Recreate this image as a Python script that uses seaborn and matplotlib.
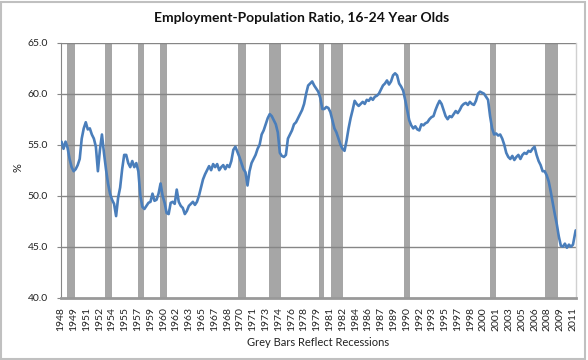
import matplotlib
matplotlib.use("Agg")
import matplotlib.pyplot as plt
import seaborn as sns
import numpy as np
import pandas as pd
from matplotlib.patches import Rectangle

# ---- data: quarterly readings (Q1..Q4) of the 16-24 employment-population ratio, %
years = list(range(1948, 2012))
q_values = [
    55.3, 54.6, 55.3, 54.7,   # 1948
    53.6, 52.8, 52.4, 52.6,   # 1949
    53.0, 53.6, 55.6, 56.6,   # 1950
    57.2, 56.5, 56.6, 56.0,   # 1951
    55.6, 54.8, 52.4, 54.5,   # 1952
    56.0, 54.2, 52.6, 51.2,   # 1953
    50.2, 49.6, 49.2, 48.0,   # 1954
    49.8, 50.8, 52.6, 54.0,   # 1955
    54.0, 53.2, 52.8, 53.4,   # 1956
    52.8, 53.2, 52.4, 50.0,   # 1957
    48.9, 48.7, 49.0, 49.3,   # 1958
    49.4, 50.2, 49.5, 49.6,   # 1959
    50.2, 51.2, 50.0, 49.3,   # 1960
    48.3, 48.2, 49.3, 49.4,   # 1961
    49.2, 50.6, 49.4, 49.0,   # 1962
    48.8, 48.2, 48.5, 49.0,   # 1963
    49.2, 49.4, 49.1, 49.4,   # 1964
    50.0, 50.8, 51.6, 52.1,   # 1965
    52.5, 52.9, 52.5, 53.1,   # 1966
    52.8, 53.1, 52.5, 52.8,   # 1967
    53.0, 52.6, 53.0, 52.8,   # 1968
    53.4, 54.5, 54.8, 54.3,   # 1969
    53.8, 53.2, 52.6, 52.3,   # 1970
    51.0, 52.4, 53.2, 53.6,   # 1971
    54.0, 54.6, 55.0, 56.0,   # 1972
    56.4, 57.0, 57.6, 58.0,   # 1973
    57.8, 57.4, 57.0, 56.2,   # 1974
    54.2, 53.9, 53.8, 54.0,   # 1975
    55.6, 56.0, 56.4, 57.0,   # 1976
    57.2, 57.6, 58.0, 58.4,   # 1977
    59.0, 60.0, 60.8, 61.0,   # 1978
    61.2, 60.8, 60.5, 60.2,   # 1979
    59.6, 58.5, 58.5, 58.7,   # 1980
    58.6, 58.2, 57.4, 56.6,   # 1981
    56.2, 55.6, 55.0, 54.6,   # 1982
    54.4, 55.4, 56.6, 57.6,   # 1983
    58.4, 59.3, 59.0, 58.8,   # 1984
    59.0, 59.2, 59.0, 59.4,   # 1985
    59.3, 59.6, 59.4, 59.7,   # 1986
    59.8, 60.0, 60.4, 60.8,   # 1987
    61.0, 61.3, 60.9, 61.2,   # 1988
    61.8, 62.0, 61.8, 61.0,   # 1989
    60.7, 60.3, 59.4, 58.4,   # 1990
    57.4, 56.9, 56.6, 56.8,   # 1991
    56.5, 56.4, 57.0, 56.9,   # 1992
    57.1, 57.2, 57.5, 57.7,   # 1993
    57.8, 58.4, 58.9, 59.3,   # 1994
    59.0, 58.4, 57.8, 57.5,   # 1995
    57.8, 57.7, 58.0, 58.3,   # 1996
    58.1, 58.4, 58.8, 59.0,   # 1997
    59.1, 58.9, 59.2, 59.0,   # 1998
    58.9, 59.3, 60.0, 60.2,   # 1999
    60.1, 60.0, 59.7, 59.4,   # 2000
    57.8, 56.6, 56.0, 56.1,   # 2001
    55.9, 56.0, 55.6, 55.0,   # 2002
    54.2, 53.8, 53.6, 53.9,   # 2003
    53.5, 53.8, 54.0, 53.6,   # 2004
    54.0, 54.2, 54.1, 54.4,   # 2005
    54.3, 54.6, 54.8, 54.0,   # 2006
    53.4, 53.0, 52.4, 52.4,   # 2007
    52.0, 51.4, 50.4, 49.3,   # 2008
    48.2, 47.2, 46.0, 45.1,   # 2009
    45.0, 45.3, 44.9, 45.2,   # 2010
    45.0, 45.2,               # 2011 Q1-Q2
]
last_value = 46.6          # Sep 2011
n_months = 765             # Jan 1948 .. Sep 2011

# NBER recessions as (start, end) "YYYY-MM"
recessions = [("1948-11", "1949-10"), ("1953-07", "1954-05"), ("1957-08", "1958-04"),
              ("1960-04", "1961-02"), ("1969-12", "1970-11"), ("1973-11", "1975-03"),
              ("1980-01", "1980-07"), ("1981-07", "1982-11"), ("1990-07", "1991-03"),
              ("2001-03", "2001-11"), ("2007-12", "2009-06")]

yticks = [40, 45, 50, 55, 60, 65]
label_step = 19  # months between x tick labels

def midx(s):
    y, m = s.split("-")
    return (int(y) - 1948) * 12 + int(m) - 1

x_idx = [1 + 3 * i for i in range(len(q_values))] + [n_months - 1]
vals = q_values + [last_value]
df = pd.DataFrame({"month": x_idx, "ratio": vals})

sns.set_style("white")
plt.rcParams["font.family"] = ["Lato", "DejaVu Sans"]

fig = plt.figure(figsize=(5.88, 3.60), dpi=100)
ax = fig.add_axes([60.5 / 588, 1 - 297.7 / 360, (576 - 60.5) / 588, (297.7 - 42.7) / 360])

for s, e in recessions:
    ax.axvspan(midx(s) - 0.5, midx(e) + 0.5, color="#A6A6A6", lw=0, zorder=1)

for v in yticks[1:]:
    ax.axhline(v, color="#868686", lw=1.0, zorder=2)

sns.lineplot(data=df, x="month", y="ratio", ax=ax, color="#4A7EBB", lw=1.9, zorder=3)

ax.set_xlim(-0.5, n_months - 0.5)
ax.set_ylim(40, 65)
ax.set_yticks(yticks)
ax.set_yticklabels([f"{v:.1f}" for v in yticks], fontsize=7.5, color="#222222")
tick_pos = list(range(0, n_months, label_step))
ax.set_xticks(tick_pos)
ax.set_xticklabels([str(1948 + p // 12) for p in tick_pos], rotation=90, fontsize=7.5,
                   color="#222222")
ax.set_xticks(range(0, n_months, 2), minor=True)
ax.tick_params(axis="x", which="major", length=3, color="#999999", pad=4, direction="out")
ax.tick_params(axis="x", which="minor", length=2.5, color="#AAAAAA", width=0.5)
ax.tick_params(axis="y", length=3, color="#868686", pad=6, direction="out", left=True)
ax.set_xlabel("")
ax.set_ylabel("")

fig.text(318 / 588, 1 - 342 / 360, "Grey Bars Reflect Recessions", ha="center",
         va="center", fontsize=8, color="#222222")
fig.text(18 / 588, 1 - 168 / 360, "%", ha="center", va="center", rotation=90,
         fontsize=8, color="#222222")

ax.spines["top"].set_visible(False)
ax.spines["left"].set_color("#868686")
ax.spines["bottom"].set_color("#999999")
ax.spines["bottom"].set_linewidth(2)
ax.spines["right"].set_color("#D0D0D0")
ax.spines["right"].set_linewidth(1)

fig.text(0.513, 1 - 18 / 360, "Employment-Population Ratio, 16-24 Year Olds",
         ha="center", va="center", fontsize=10, fontweight="bold", color="#111111")

fig.patches.append(Rectangle((1.5 / 588, 1.5 / 360), 583 / 588, 357 / 360,
                             transform=fig.transFigure, fill=False,
                             edgecolor="#C0C0C0", lw=1.5))

fig.savefig("out.png", dpi=100)
